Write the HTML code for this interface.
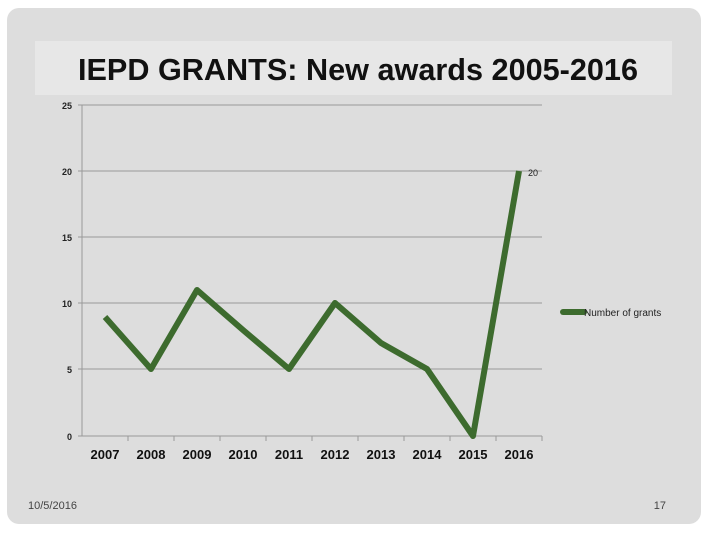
<!DOCTYPE html><html><head><style>
body{margin:0;background:#fff;width:708px;height:531px;overflow:hidden;font-family:"Liberation Sans",sans-serif}
</style></head><body>
<svg width="708" height="531" xmlns="http://www.w3.org/2000/svg">
<rect x="7" y="8" width="694" height="516" rx="12" fill="#dddddd"/>
<rect x="35" y="41" width="637" height="54" fill="#e7e7e7"/>
<text x="358" y="80" text-anchor="middle" font-size="31" font-weight="bold" fill="#111" textLength="560" lengthAdjust="spacingAndGlyphs">IEPD GRANTS: New awards 2005-2016</text>
<g stroke="#999" stroke-width="1">
<line x1="82" y1="105" x2="542" y2="105"/><line x1="82" y1="171" x2="542" y2="171"/>
<line x1="82" y1="237" x2="542" y2="237"/><line x1="82" y1="303" x2="542" y2="303"/>
<line x1="82" y1="369" x2="542" y2="369"/><line x1="82" y1="436" x2="542" y2="436"/>
<line x1="82" y1="105" x2="82" y2="436"/>
<line x1="78" y1="105" x2="82" y2="105"/><line x1="78" y1="171" x2="82" y2="171"/><line x1="78" y1="237" x2="82" y2="237"/><line x1="78" y1="303" x2="82" y2="303"/><line x1="78" y1="369" x2="82" y2="369"/><line x1="78" y1="436" x2="82" y2="436"/>
<line x1="128" y1="436" x2="128" y2="441"/><line x1="174" y1="436" x2="174" y2="441"/><line x1="220" y1="436" x2="220" y2="441"/><line x1="266" y1="436" x2="266" y2="441"/><line x1="312" y1="436" x2="312" y2="441"/><line x1="358" y1="436" x2="358" y2="441"/><line x1="404" y1="436" x2="404" y2="441"/><line x1="450" y1="436" x2="450" y2="441"/><line x1="496" y1="436" x2="496" y2="441"/><line x1="542" y1="436" x2="542" y2="441"/>
</g>
<g font-size="9" font-weight="bold" text-anchor="end" fill="#222">
<text x="72" y="109">25</text><text x="72" y="175">20</text><text x="72" y="241">15</text><text x="72" y="307">10</text><text x="72" y="373">5</text><text x="72" y="440">0</text>
</g>
<g font-size="13" font-weight="bold" text-anchor="middle" fill="#111">
<text x="105" y="459">2007</text><text x="151" y="459">2008</text><text x="197" y="459">2009</text><text x="243" y="459">2010</text><text x="289" y="459">2011</text><text x="335" y="459">2012</text><text x="381" y="459">2013</text><text x="427" y="459">2014</text><text x="473" y="459">2015</text><text x="519" y="459">2016</text>
</g>
<polyline fill="none" stroke="#3d6b2e" stroke-width="6" stroke-linejoin="round" points="105,317 151,369 197,290 243,330 289,369 335,303 381,343 427,369 473,436 519,171"/>
<text x="528" y="176" font-size="9" fill="#222">20</text>
<line x1="563" y1="312" x2="584" y2="312" stroke="#3d6b2e" stroke-width="6" stroke-linecap="round"/>
<text x="584" y="316" font-size="10" fill="#222">Number of grants</text>
<text x="28" y="509" font-size="11" fill="#444">10/5/2016</text>
<text x="666" y="509" font-size="11" fill="#444" text-anchor="end">17</text>
</svg>
</body></html>
